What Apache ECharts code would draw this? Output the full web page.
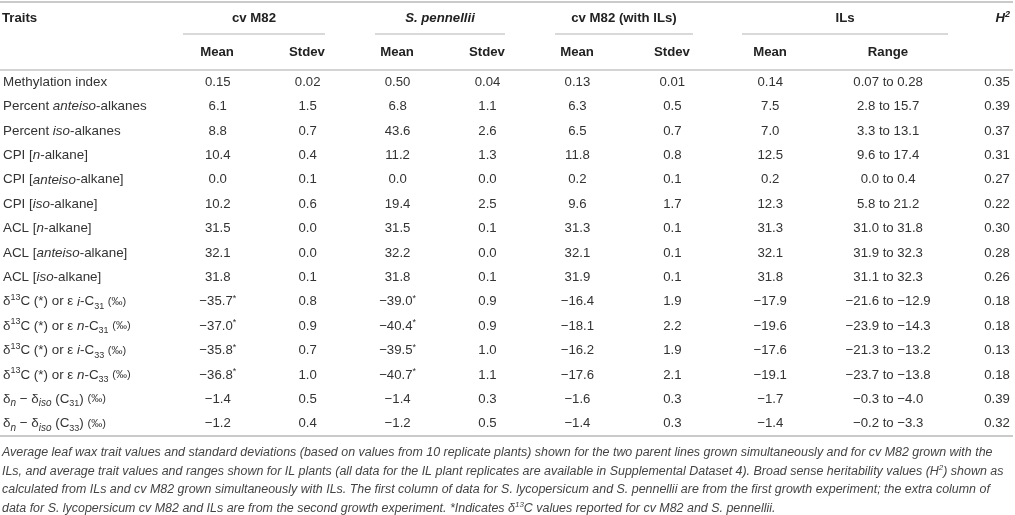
<!DOCTYPE html>
<html>
<head>
<meta charset="utf-8">
<script src="https://cdn.jsdelivr.net/npm/echarts@6/dist/echarts.min.js"></script>
<style>html,body{margin:0;padding:0;background:#fff}#main{width:1015px;height:515px}</style>
</head>
<body>
<div id="main"></div>
<script>
// ---------- data ----------
const traits = [
  "Methylation index",
  "Percent {i|anteiso}-alkanes",
  "Percent {i|iso}-alkanes",
  "CPI [{i|n}-alkane]",
  "CPI [{i|anteiso}-alkane]",
  "CPI [{i|iso}-alkane]",
  "ACL [{i|n}-alkane]",
  "ACL [{i|anteiso}-alkane]",
  "ACL [{i|iso}-alkane]",
  "δ{sup|13}C (*) or ε {i|i}-C{sub|31} {pm|(‰)}",
  "δ{sup|13}C (*) or ε {i|n}-C{sub|31} {pm|(‰)}",
  "δ{sup|13}C (*) or ε {i|i}-C{sub|33} {pm|(‰)}",
  "δ{sup|13}C (*) or ε {i|n}-C{sub|33} {pm|(‰)}",
  "δ{isub|n} − δ{isub|iso} (C{sub|31}) {pm|(‰)}",
  "δ{isub|n} − δ{isub|iso} (C{sub|33}) {pm|(‰)}"
];
const groupHeaders = ["cv M82", "S. pennellii", "cv M82 (with ILs)", "ILs"];
const subHeaders = ["Mean", "Stdev", "Mean", "Stdev", "Mean", "Stdev", "Mean", "Range"];
const m82Mean   = [0.15, 6.1, 8.8, 10.4, 0.0, 10.2, 31.5, 32.1, 31.8, -35.7, -37.0, -35.8, -36.8, -1.4, -1.2];
const m82Sd     = [0.02, 1.5, 0.7, 0.4, 0.1, 0.6, 0.0, 0.0, 0.1, 0.8, 0.9, 0.7, 1.0, 0.5, 0.4];
const penMean   = [0.50, 6.8, 43.6, 11.2, 0.0, 19.4, 31.5, 32.2, 31.8, -39.0, -40.4, -39.5, -40.7, -1.4, -1.2];
const penSd     = [0.04, 1.1, 2.6, 1.3, 0.0, 2.5, 0.1, 0.0, 0.1, 0.9, 0.9, 1.0, 1.1, 0.3, 0.5];
const m82IlMean = [0.13, 6.3, 6.5, 11.8, 0.2, 9.6, 31.3, 32.1, 31.9, -16.4, -18.1, -16.2, -17.6, -1.6, -1.4];
const m82IlSd   = [0.01, 0.5, 0.7, 0.8, 0.1, 1.7, 0.1, 0.1, 0.1, 1.9, 2.2, 1.9, 2.1, 0.3, 0.3];
const ilMean    = [0.14, 7.5, 7.0, 12.5, 0.2, 12.3, 31.3, 32.1, 31.8, -17.9, -19.6, -17.6, -19.1, -1.7, -1.4];
const ilRangeLo = [0.07, 2.8, 3.3, 9.6, 0.0, 5.8, 31.0, 31.9, 31.1, -21.6, -23.9, -21.3, -23.7, -0.3, -0.2];
const ilRangeHi = [0.28, 15.7, 13.1, 17.4, 0.4, 21.2, 31.8, 32.3, 32.3, -12.9, -14.3, -13.2, -13.8, -4.0, -3.3];
const h2        = [0.35, 0.39, 0.37, 0.31, 0.27, 0.22, 0.30, 0.28, 0.26, 0.18, 0.18, 0.13, 0.18, 0.39, 0.32];
const reportedD13C = [0,0,0,0,0,0,0,0,0,1,1,1,1,0,0];
const captionLines = [
  "Average leaf wax trait values and standard deviations (based on values from 10 replicate plants) shown for the two parent lines grown simultaneously and for cv M82 grown with the",
  "ILs, and average trait values and ranges shown for IL plants (all data for the IL plant replicates are available in Supplemental Dataset 4). Broad sense heritability values (H{csup|2}) shown as",
  "calculated from ILs and cv M82 grown simultaneously with ILs. The first column of data for S. lycopersicum and S. pennellii are from the first growth experiment; the extra column of",
  "data for S. lycopersicum cv M82 and ILs are from the second growth experiment. *Indicates δ{csup|13}C values reported for cv M82 and S. pennellii."
];

// ---------- layout / style ----------
const FONT = "'Liberation Sans', Arial, Helvetica, sans-serif";
const TXT = '#333';
const COL_X = [217, 307, 397, 487, 577, 672, 770, 888, 997];
const GROUP_SPAN = [[183, 325], [375, 505], [555, 693], [742, 948]];
const ROW_TOP = 70, ROW_BOTTOM = 436;

function fmt(v, d) { return (v < 0 ? '−' : '') + Math.abs(v).toFixed(d); }

const columns = [
  {vals: m82Mean, star: true}, {vals: m82Sd}, {vals: penMean, star: true}, {vals: penSd},
  {vals: m82IlMean}, {vals: m82IlSd}, {vals: ilMean}, {range: true}, {vals: h2, dec: 2}
];
const cellTexts = [];
const cellData = [];
columns.forEach((col, c) => {
  traits.forEach((t, r) => {
    const d = col.dec || (r === 0 ? 2 : 1);
    let s;
    if (col.range) s = fmt(ilRangeLo[r], d) + ' to ' + fmt(ilRangeHi[r], d);
    else s = fmt(col.vals[r], d) + (col.star && reportedD13C[r] ? '{ast|*}' : '');
    cellTexts.push(s);
    cellData.push([COL_X[c], r]);
  });
});

const CELL_RICH = { ast: {fontSize: 9, lineHeight: 16, verticalAlign: 'top', fill: TXT, fontFamily: FONT} };
const TRAIT_RICH = {
  i: {fontStyle: 'italic', fontSize: 13.4, lineHeight: 18, color: TXT, fontFamily: FONT},
  sup: {fontSize: 9, lineHeight: 13, verticalAlign: 'top', color: TXT, fontFamily: FONT},
  sub: {fontSize: 9, lineHeight: 11, verticalAlign: 'bottom', color: TXT, fontFamily: FONT},
  isub: {fontStyle: 'italic', fontSize: 10, lineHeight: 11, verticalAlign: 'bottom', color: TXT, fontFamily: FONT},
  pm: {fontSize: 11, lineHeight: 18, color: TXT, fontFamily: FONT}
};

const graphics = [];
function line(x1, y1, x2, y2, color, w) {
  graphics.push({type: 'line', shape: {x1, y1, x2, y2}, style: {stroke: color, lineWidth: w}, silent: true});
}
function text(str, x, y, align, opts) {
  graphics.push({type: 'text', x, y, silent: true, style: Object.assign({
    text: str, align: align, verticalAlign: 'middle', textAlign: align, textVerticalAlign: 'middle',
    fill: '#222', fontSize: 13.2, fontWeight: 'bold', fontFamily: FONT
  }, opts || {})});
}
line(0, 2, 1013, 2, '#b8b8b8', 1.5);
line(0, ROW_TOP, 1013, ROW_TOP, '#c4c4c4', 1.5);
line(0, ROW_BOTTOM, 1013, ROW_BOTTOM, '#b8b8b8', 1.5);
GROUP_SPAN.forEach(s => line(s[0], 34, s[1], 34, '#cccccc', 1.5));
text('Traits', 2, 18, 'left');
groupHeaders.forEach((g, k) => text(g, (GROUP_SPAN[k][0] + GROUP_SPAN[k][1]) / 2, 18, 'center',
  k === 1 ? {fontStyle: 'italic'} : {}));
text('H{hs|2}', 1010, 18, 'right', {fontStyle: 'italic', rich: {
  hs: {fontSize: 9, fontWeight: 'bold', fontStyle: 'italic', lineHeight: 16, verticalAlign: 'top', fill: '#222', fontFamily: FONT}
}});
subHeaders.forEach((h, k) => text(h, COL_X[k], 52, 'center'));
const capRich = {
  csup: {fontSize: 8, fontStyle: 'italic', lineHeight: 15, verticalAlign: 'top', fill: '#444', fontFamily: FONT}
};
captionLines.forEach((l, k) => text(l, 2, 453 + k * 18.5, 'left', {
  fontWeight: 'normal', fontStyle: 'italic', fontSize: 12.45, fill: '#444', lineHeight: 15, rich: capRich
}));

const chart = echarts.init(document.getElementById('main'), null, {renderer: 'canvas'});
chart.setOption({
  animation: false,
  grid: {left: 0, right: 0, top: ROW_TOP, bottom: 515 - ROW_BOTTOM},
  xAxis: {type: 'value', min: 0, max: 1015, show: false},
  yAxis: {
    type: 'category', data: traits, inverse: true,
    axisLine: {show: false}, axisTick: {show: false}, splitLine: {show: false},
    axisLabel: {inside: true, margin: 2, interval: 0, color: TXT, fontSize: 13.4, lineHeight: 18,
      fontFamily: FONT, rich: TRAIT_RICH}
  },
  series: [{
    type: 'custom',
    coordinateSystem: 'cartesian2d',
    data: cellData,
    silent: true,
    renderItem: function (params, api) {
      const p = api.coord([api.value(0), api.value(1)]);
      return {
        type: 'text', x: p[0], y: p[1],
        style: {
          text: cellTexts[params.dataIndex], rich: CELL_RICH,
          align: 'center', verticalAlign: 'middle', textAlign: 'center', textVerticalAlign: 'middle',
          fill: TXT, fontSize: 13.2, fontFamily: FONT, lineHeight: 16
        }
      };
    }
  }],
  graphic: graphics
});
</script>
</body>
</html>
